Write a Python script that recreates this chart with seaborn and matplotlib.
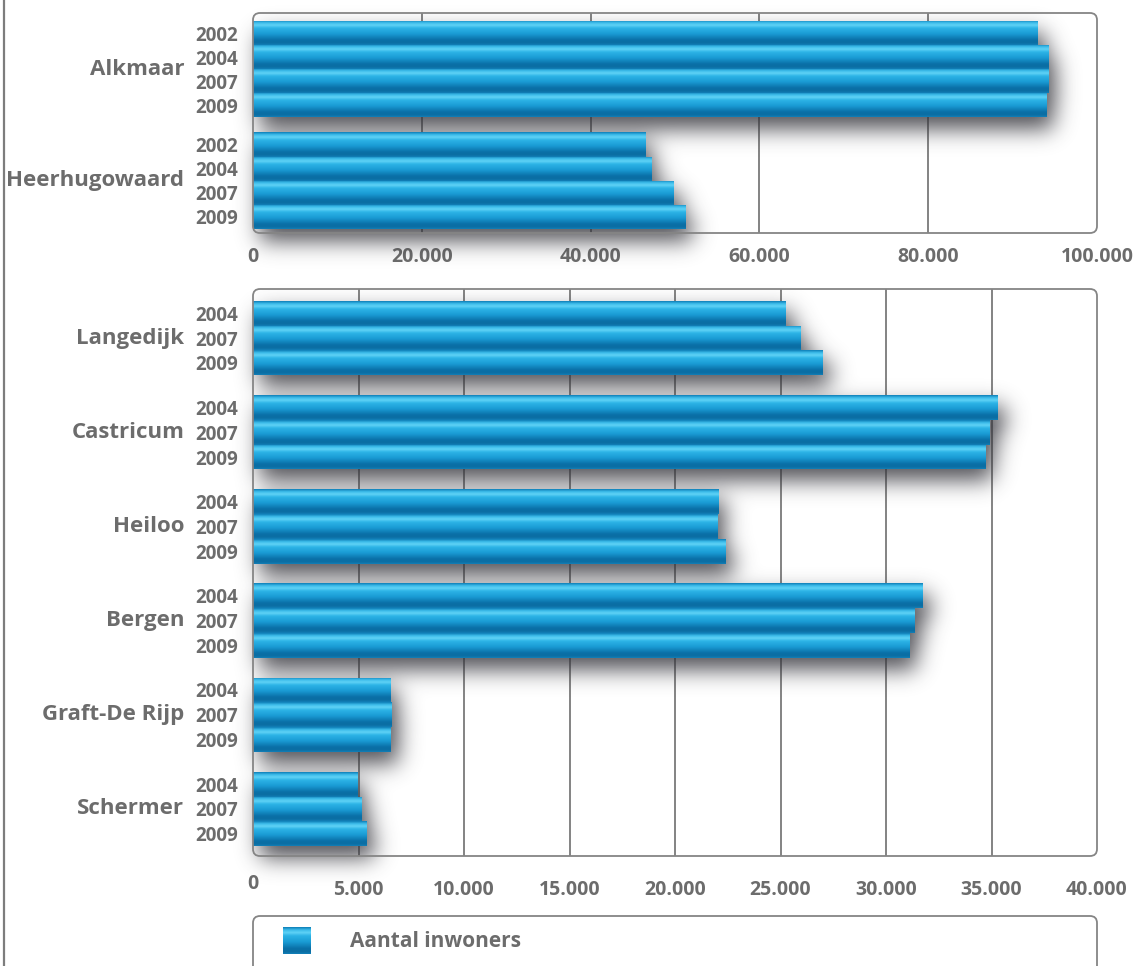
import numpy as np
import pandas as pd
import matplotlib
matplotlib.use("Agg")
import matplotlib.pyplot as plt
import seaborn as sns
from matplotlib.patches import FancyBboxPatch, Rectangle
from matplotlib.colors import LinearSegmentedColormap
from matplotlib.lines import Line2D

# ---- data -------------------------------------------------------------
big_towns = ["Alkmaar", "Heerhugowaard"]
big_years = ["2002", "2004", "2007", "2009"]
alkmaar = [93000, 94200, 94300, 94000]
heerhugowaard = [46450, 47250, 49850, 51200]

small_towns = ["Langedijk", "Castricum", "Heiloo", "Bergen", "Graft-De Rijp", "Schermer"]
small_years = ["2004", "2007", "2009"]
langedijk = [25250, 25950, 27000]
castricum = [35300, 34900, 34700]
heiloo = [22050, 22000, 22400]
bergen = [31750, 31350, 31100]
graft_de_rijp = [6500, 6580, 6520]
schermer = [4930, 5150, 5400]

top_ticks = [0, 20000, 40000, 60000, 80000, 100000]
bottom_ticks = [0, 5000, 10000, 15000, 20000, 25000, 30000, 35000, 40000]
legend_label = "Aantal inwoners"

# ---- style ------------------------------------------------------------
sns.set_theme(style="white")
plt.rcParams["font.family"] = ["Open Sans", "DejaVu Sans"]
plt.rcParams["font.weight"] = "bold"

TEXT = "#6c6c6c"
FRAME = "#858585"
GRID = "#7a7a7a"
BAR = "#1a9ad6"
bar_cmap = LinearSegmentedColormap.from_list(
    "tube",
    [(0.00, "#0f7fb8"), (0.10, "#3cbcea"), (0.20, "#5fd2f6"), (0.32, "#2cb3e6"),
     (0.55, "#1a9bd4"), (0.80, "#0a70a7"), (0.92, "#0b6ea3"), (1.00, "#127fb7")])

W, H, DPI = 1137, 966, 100
fig = plt.figure(figsize=(W / DPI, H / DPI), dpi=DPI)
fig.patch.set_facecolor("white")

NAME_SIZE = 16
YEAR_SIZE = 13.5
TICK_SIZE = 14
LEGEND_SIZE = 15


def px_axes(box):
    left, top, right, bottom = box
    return fig.add_axes([left / W, 1 - bottom / H, (right - left) / W, (bottom - top) / H])


def rounded_frame(box, radius=7, extend_below=0):
    left, top, right, bottom = box
    bottom = bottom + extend_below
    p = FancyBboxPatch((left / W, 1 - bottom / H), (right - left) / W, (bottom - top) / H,
                       boxstyle=f"round,pad=0,rounding_size={radius / W}",
                       mutation_aspect=W / H, transform=fig.transFigure,
                       facecolor="none", edgecolor=FRAME, linewidth=1.3, zorder=10)
    fig.add_artist(p)


def build(towns, years, series, gap):
    rows = []
    step = len(years) + gap
    for i, (town, vals) in enumerate(zip(towns, series)):
        for j, (yr, v) in enumerate(zip(years, vals)):
            rows.append({"town": town, "year": yr, "pos": i * step + j, "value": v})
    return pd.DataFrame(rows)


def fmt(v):
    return f"{v:,}".replace(",", ".")


def draw_shadow(ax, df, xlim, ylim, box, offset=(7, 12), sigma=11.0, strength=0.85, margin=55):
    left, top, right, bottom = box
    pw, ph = right - left, bottom - top
    x0, x1 = xlim
    y_bot, y_top = ylim
    dx = (x1 - x0) / pw
    dy = (y_bot - y_top) / ph
    mask = np.zeros((ph + 2 * margin, pw + 2 * margin))
    for pos, val in zip(df["pos"], df["value"]):
        r0 = int(round((pos - 0.5 - y_top) / dy)) + margin + offset[1]
        r1 = int(round((pos + 0.5 - y_top) / dy)) + margin + offset[1]
        c0 = int(round((0 - x0) / dx)) + margin + offset[0]
        c1 = int(round((val - x0) / dx)) + margin + offset[0]
        mask[r0:r1, c0:c1] = 1.0
    rad = int(3 * sigma)
    k = np.exp(-0.5 * (np.arange(-rad, rad + 1) / sigma) ** 2)
    k /= k.sum()
    mask = np.apply_along_axis(lambda v: np.convolve(v, k, mode="same"), 0, mask)
    mask = np.apply_along_axis(lambda v: np.convolve(v, k, mode="same"), 1, mask)
    rgba = np.zeros(mask.shape + (4,))
    rgba[..., 0] = 0.2
    rgba[..., 1] = 0.2
    rgba[..., 2] = 0.23
    rgba[..., 3] = mask * strength
    ext = (x0 - margin * dx, x1 + margin * dx, y_bot + margin * dy, y_top - margin * dy)
    ax.imshow(rgba, extent=ext, origin="upper", aspect="auto",
              interpolation="bilinear", zorder=1.5, clip_on=False)


def tube_bars(ax):
    grad = np.linspace(0, 1, 96).reshape(-1, 1)
    for bar in list(ax.patches):
        bar.set_zorder(3)
        x0, y0 = bar.get_x(), bar.get_y()
        w, h = bar.get_width(), bar.get_height()
        im = ax.imshow(grad, cmap=bar_cmap, extent=(x0, x0 + w, y0 + h, y0),
                       origin="upper", aspect="auto", interpolation="bilinear", zorder=3.1)
        im.set_clip_path(bar)


def panel(box, df, towns, xmax, ticks, ylim, tick_pad, raise_zero=False):
    ax = px_axes(box)
    sns.barplot(data=df, x="value", y="pos", orient="y", native_scale=True,
                width=1.0, color=BAR, errorbar=None, linewidth=0, ax=ax)
    tube_bars(ax)
    draw_shadow(ax, df, (0, xmax), ylim, box)
    ax.set_xlim(0, xmax)
    ax.set_ylim(*ylim)
    for t in ticks[1:-1]:
        ax.axvline(t, color=GRID, lw=1.3, zorder=1)
    for s in ax.spines.values():
        s.set_visible(False)
    ax.set_xlabel("")
    ax.set_ylabel("")
    ax.set_xticks(ticks)
    labels = [fmt(t) for t in ticks]
    if raise_zero:
        labels[0] = ""
    ax.set_xticklabels(labels)
    ax.set_yticks(df["pos"])
    ax.set_yticklabels(df["year"])
    ax.tick_params(axis="x", length=0, pad=tick_pad, labelsize=TICK_SIZE, labelcolor=TEXT)
    ax.tick_params(axis="y", length=0, pad=10.5, labelsize=YEAR_SIZE, labelcolor=TEXT)
    if raise_zero:
        ax.annotate(fmt(ticks[0]), xy=(ticks[0], 0), xycoords=ax.get_xaxis_transform(),
                    xytext=(0, -(tick_pad - 4.5)), textcoords="offset points",
                    ha="center", va="top", fontsize=TICK_SIZE, color=TEXT, fontweight="bold")
    for town in towns:
        center = df.loc[df["town"] == town, "pos"].mean()
        ax.annotate(town, xy=(0, center), xycoords=ax.get_yaxis_transform(),
                    xytext=(-49.5, 0), textcoords="offset points",
                    ha="right", va="center", fontsize=NAME_SIZE, color=TEXT, fontweight="bold")
    rounded_frame(box)
    return ax


# ---- upper panel: the two large municipalities -------------------------
top_box = (253, 13, 1097, 233)
df_big = build(big_towns, big_years, [alkmaar, heerhugowaard], gap=0.62)
top_last = df_big["pos"].max()
panel(top_box, df_big, big_towns, top_ticks[-1], top_ticks,
      (top_last + 0.5 + 0.17, -0.5 - 0.33), tick_pad=10.0)

# ---- lower panel: the smaller municipalities --------------------------
bot_box = (253, 289, 1097, 856)
df_small = build(small_towns, small_years,
                 [langedijk, castricum, heiloo, bergen, graft_de_rijp, schermer], gap=0.8)
bot_last = df_small["pos"].max()
panel(bot_box, df_small, small_towns, bottom_ticks[-1], bottom_ticks,
      (bot_last + 0.5 + 0.40, -0.5 - 0.48), tick_pad=17.5, raise_zero=True)

# ---- legend -------------------------------------------------------------
leg_box = (253, 916, 1097, 966)
leg = px_axes(leg_box)
leg.set_xlim(0, leg_box[2] - leg_box[0])
leg.set_ylim(leg_box[3] - leg_box[1], 0)
leg.axis("off")
swatch = Rectangle((30, 11), 28, 27, facecolor=BAR, edgecolor="none", zorder=2)
leg.add_patch(swatch)
sw_im = leg.imshow(np.linspace(0, 1, 64).reshape(-1, 1), cmap=bar_cmap,
                   extent=(30, 58, 38, 11), origin="upper", aspect="auto", zorder=3)
sw_im.set_clip_path(swatch)
leg.set_xlim(0, leg_box[2] - leg_box[0])
leg.set_ylim(leg_box[3] - leg_box[1], 0)
leg.text(97, 25.5, legend_label, ha="left", va="center", fontsize=LEGEND_SIZE,
         color=TEXT, fontweight="bold")
rounded_frame(leg_box, extend_below=30)

# page edge on the left
fig.add_artist(Line2D([4 / W, 4 / W], [0, 1], transform=fig.transFigure,
                      color="#7d7d7d", lw=1.6))

fig.savefig("out.png", dpi=DPI, facecolor="white")
